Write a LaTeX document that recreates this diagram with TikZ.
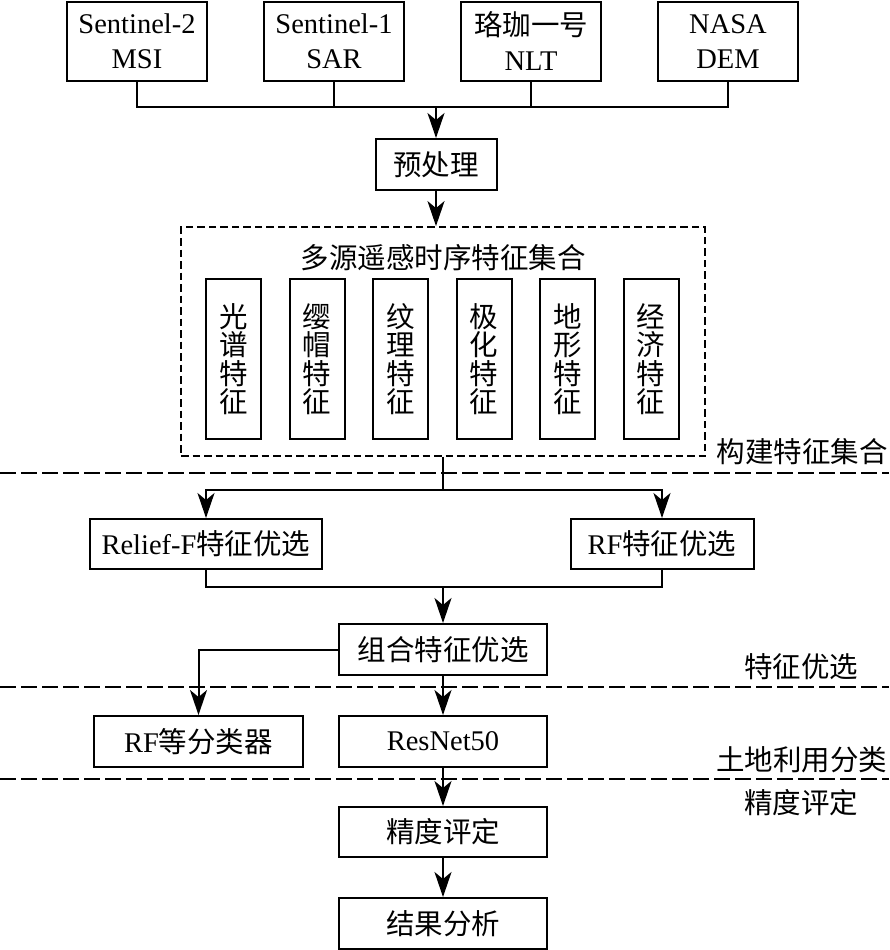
\documentclass[tikz,border=0pt]{standalone}
\usepackage{fontspec}
\setmainfont{Liberation Serif}
\newfontfamily\cjk{Noto Sans CJK SC}
\usetikzlibrary{arrows.meta}
\newcommand\fsz{\fontsize{28.5}{35}\selectfont}
\newcommand\fsv{\fontsize{28.5}{28.5}\selectfont}
\tikzset{
  box/.style={draw, line width=2pt, inner sep=0pt, minimum height=51pt, font=\fsz, align=center},
  topbox/.style={box, minimum width=140pt, minimum height=79pt},
  vbox/.style={draw, line width=2pt, inner sep=0pt, minimum width=55pt, minimum height=160pt, font=\fsv\cjk, align=center},
  featbox/.style={draw, line width=1.8pt, dash pattern=on 7.5pt off 4pt, inner sep=0pt, minimum width=524pt, minimum height=229pt},
  lab/.style={inner sep=0pt, font=\fsz\cjk},
  line/.style={line width=2pt},
  arr/.style={line width=2pt, -{Stealth[length=25pt, width=17pt, inset=7pt]}},
  sep/.style={line width=2.8pt, dash pattern=on 16pt off 5pt}
}
\begin{document}
\begin{tikzpicture}[x=1pt, y=-1pt]
\useasboundingbox (0,0) rectangle (889,950);
% sources
\node[topbox] (s1) at (137,41.5) {Sentinel-2\\MSI};
\node[topbox] (s2) at (334,41.5) {Sentinel-1\\SAR};
\node[topbox] (s3) at (531,41.5) {{\cjk 珞珈一号}\\NLT};
\node[topbox] (s4) at (728,41.5) {NASA\\DEM};
\coordinate (bus) at (436,107);
\node[box, minimum width=121pt] (pre) at (436,164.5) {\cjk 预处理};
% feature set
\node[featbox] (feat) at (443,341.5) {};
\node[lab] (ftitle) at (443,257.5) {多源遥感时序特征集合};
\node[vbox] (f1) at (233.5,359) {光\\谱\\特\\征};
\node[vbox] (f2) at (317,359) {缨\\帽\\特\\征};
\node[vbox] (f3) at (400.5,359) {纹\\理\\特\\征};
\node[vbox] (f4) at (484,359) {极\\化\\特\\征};
\node[vbox] (f5) at (567.5,359) {地\\形\\特\\征};
\node[vbox] (f6) at (651,359) {经\\济\\特\\征};
% selection
\coordinate (br) at (443,490);
\node[box, minimum width=232pt, minimum height=50pt] (relief) at (206,544) {Relief-F{\cjk 特征优选}};
\node[box, minimum width=183pt, minimum height=50pt] (rf) at (662,544) {RF{\cjk 特征优选}};
\coordinate (mg) at (443,587);
\node[box, minimum width=208pt] (comb) at (443,649.5) {\cjk 组合特征优选};
% classification
\node[box, minimum width=209pt] (rfc) at (198.5,741.5) {RF{\cjk 等分类器}};
\node[box, minimum width=208pt] (res) at (443,741.5) {ResNet50};
\node[box, minimum width=208pt, minimum height=50pt] (acc) at (443,832) {\cjk 精度评定};
\node[box, minimum width=208pt] (ana) at (443,923.5) {\cjk 结果分析};
% stage labels
\node[lab] (l1) at (802,452) {构建特征集合};
\node[lab] (l2) at (801,667) {特征优选};
\node[lab] (l3) at (801.5,760) {土地利用分类};
\node[lab] (l4) at (801,803) {精度评定};
% separators
\draw[sep] (0,473) -- (889,473);
\draw[sep] (0,687) -- (889,687);
\draw[sep] (0,779) -- (889,779);
% connectors
\draw[line] (s1.south) -- (s1.south |- bus) -- (s4.south |- bus) -- (s4.south);
\draw[line] (s2.south) -- (s2.south |- bus);
\draw[line] (s3.south) -- (s3.south |- bus);
\draw[arr] (bus) -- (pre.north);
\draw[arr] (pre.south) -- (pre.south |- feat.north);
\draw[line] (feat.south) -- (br);
\draw[arr] (br) -| (relief.north);
\draw[arr] (br) -| (rf.north);
\draw[line] (relief.south) |- (mg);
\draw[line] (rf.south) |- (mg);
\draw[arr] (mg) -- (comb.north);
\draw[arr] (comb.west) -| (rfc.north);
\draw[arr] (comb.south) -- (res.north);
\draw[arr] (res.south) -- (acc.north);
\draw[arr] (acc.south) -- (ana.north);
\end{tikzpicture}
\end{document}
